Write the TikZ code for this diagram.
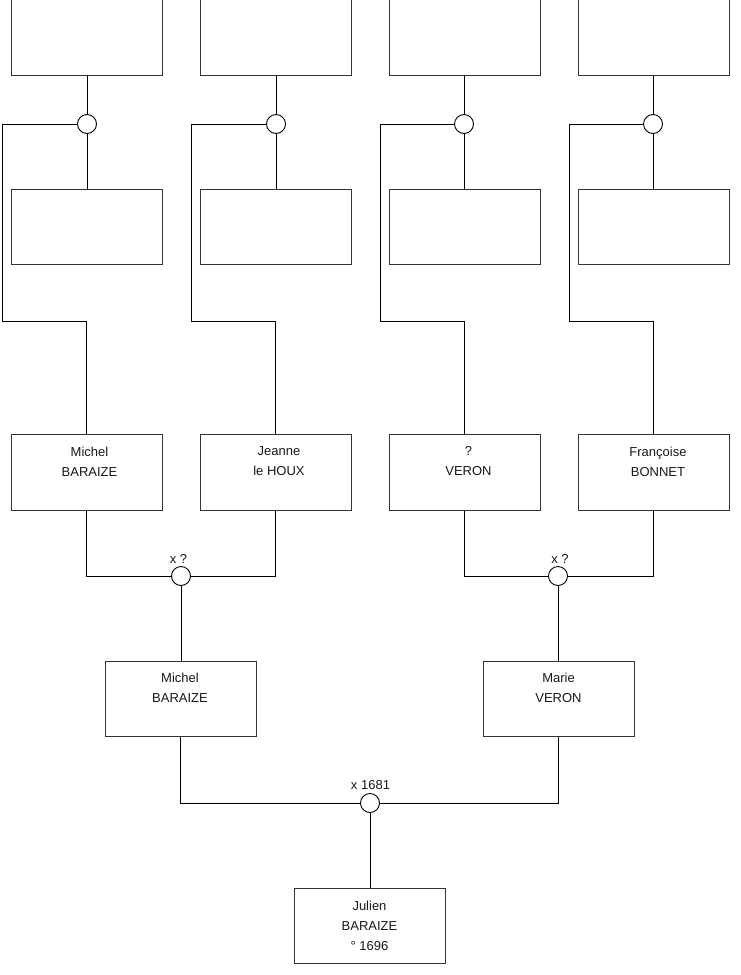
\documentclass[tikz,border=0pt]{standalone}
\usepackage{fontspec}
\setmainfont{Liberation Sans}
\begin{document}
\begin{tikzpicture}[x=1pt,y=-1pt,
  person/.style={draw=black!80, line width=1pt, minimum width=151pt, minimum height=75.5pt, inner sep=0pt, fill=white},
  union/.style={circle, draw=black, line width=0.9pt, minimum size=19pt, inner sep=0pt, fill=white},
  pname/.style={anchor=north, align=center, inner sep=0pt, font=\fontsize{13}{20}\selectfont, text=black!90},
  lbl/.style={anchor=base, inner sep=0pt, font=\fontsize{13}{15}\selectfont, text=black!90},
  link/.style={draw=black, line width=1pt}]
\useasboundingbox[fill=white] (0,0) rectangle (740,975);

% top boxes
\node[person] (T1) at (86.5,37.5) {};
\node[person] (T2) at (275.5,37.5) {};
\node[person] (T3) at (464.5,37.5) {};
\node[person] (T4) at (653.5,37.5) {};
% unions of top level
\node[union] (C1) at (87,124) {};
\node[union] (C2) at (276,124) {};
\node[union] (C3) at (464,124) {};
\node[union] (C4) at (653,124) {};
% middle boxes
\node[person] (M1) at (86.5,227) {};
\node[person] (M2) at (275.5,227) {};
\node[person] (M3) at (464.5,227) {};
\node[person] (M4) at (653.5,227) {};
% parents
\node[person] (P1) at (86.5,472.5) {};
\node[person] (P2) at (275.5,472.5) {};
\node[person] (P3) at (464.5,472.5) {};
\node[person] (P4) at (653.5,472.5) {};
\node[pname] (N1) at (89.5,446.5) {Michel\\BARAIZE};
\node[pname] (N2) at (279,446.5) {Jeanne\\le HOUX};
\node[pname] (N3) at (468.5,446.5) {?\\VERON};
\node[pname] (N4) at (658,446.5) {Françoise\\BONNET};
% knees of the long connectors
\coordinate (K1) at (2,321);
\coordinate (K2) at (191,321);
\coordinate (K3) at (380,321);
\coordinate (K4) at (569,321);

\foreach \i in {1,2,3,4} {
  \draw[link] (C\i.north) -- (C\i.north |- T\i.south);
  \draw[link] (C\i.south) -- (C\i.south |- M\i.north);
  \draw[link] (C\i.west) -| (K\i) -| (P\i.north);
}

% second level unions
\node[union] (W1) at (181,576) {};
\node[union] (W2) at (558,576) {};
\node[lbl] (L1) at (178.5,563) {x ?};
\node[lbl] (L2) at (560,563) {x ?};

% grandparents' children
\node[person] (G1) at (180.5,699) {};
\node[person] (G2) at (558.5,699) {};
\node[pname] (NG1) at (180,673) {Michel\\BARAIZE};
\node[pname] (NG2) at (558.5,673) {Marie\\VERON};

\draw[link] (P1.south) |- (W1.west);
\draw[link] (P2.south) |- (W1.east);
\draw[link] (W1.south) -- (W1.south |- G1.north);
\draw[link] (P3.south) |- (W2.west);
\draw[link] (P4.south) |- (W2.east);
\draw[link] (W2.south) -- (W2.south |- G2.north);

% final union
\node[union] (W0) at (370,803) {};
\node[lbl] (L0) at (370.5,789.5) {x 1681};
\node[person] (J) at (369.5,926) {};
\node[pname] (NJ) at (369.5,900.5) {Julien\\BARAIZE\\° 1696};

\draw[link] (G1.south) |- (W0.west);
\draw[link] (G2.south) |- (W0.east);
\draw[link] (W0.south) -- (W0.south |- J.north);
\end{tikzpicture}
\end{document}
